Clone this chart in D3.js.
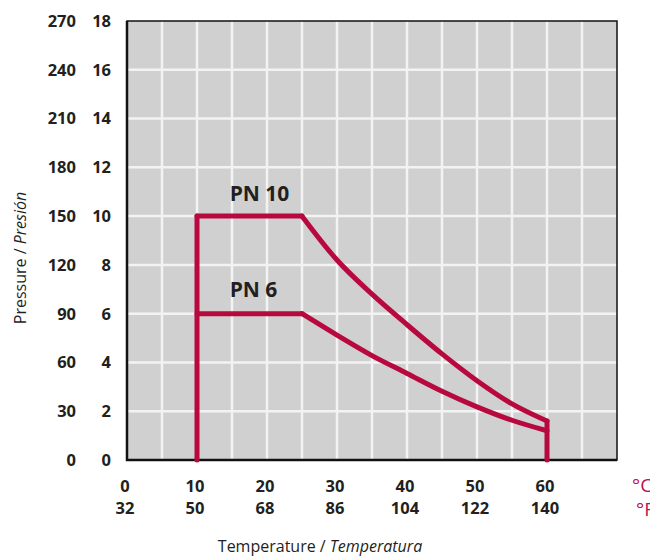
<!DOCTYPE html>
<html>
<head>
<meta charset="utf-8">
<script src="https://cdn.jsdelivr.net/npm/d3@7"></script>
<style>
  body { margin: 0; background: #fff; }
  text { font-family: "Open Sans", sans-serif; fill: #231f20; }
</style>
</head>
<body>
<svg width="650" height="557"></svg>
<script>
// tick labels
var barTicks = [0, 2, 4, 6, 8, 10, 12, 14, 16, 18];
var psiLabels = ["0", "30", "60", "90", "120", "150", "180", "210", "240", "270"];
var celsiusTicks = [0, 10, 20, 30, 40, 50, 60];
var fahrenheitLabels = ["32", "50", "68", "86", "104", "122", "140"];

// pressure curves (temperature °C, pressure bar)
var pn10 = [[10, 10], [25, 10], [30, 8.2], [35, 6.8], [40, 5.55], [45, 4.35], [50, 3.25], [55, 2.3], [60, 1.6]];
var pn6 = [[10, 6], [25, 6], [30, 5.12], [35, 4.28], [40, 3.55], [45, 2.82], [50, 2.18], [55, 1.63], [60, 1.2]];
var minTemp = 10, maxTemp = 60;

var svg = d3.select("svg");
var margin = { left: 127, right: 33, top: 21, bottom: 97 };
var W = 650, H = 557;

var x = d3.scaleLinear().domain([0, 70]).range([margin.left, W - margin.right]);
var y = d3.scaleLinear().domain([0, 18]).range([H - margin.bottom, margin.top]);

// background
svg.append("rect")
  .attr("x", x(0)).attr("y", y(18))
  .attr("width", x(70) - x(0)).attr("height", y(0) - y(18))
  .attr("fill", "#d0d0d0");

// grid
svg.append("g").selectAll("line")
  .data(d3.range(5, 70, 5))
  .join("line")
  .attr("x1", d => x(d)).attr("x2", d => x(d))
  .attr("y1", y(18)).attr("y2", y(0))
  .attr("stroke", "#f3f3f3").attr("stroke-width", 2.5);

svg.append("g").selectAll("line")
  .data(d3.range(2, 18, 2))
  .join("line")
  .attr("x1", x(0)).attr("x2", x(70))
  .attr("y1", d => y(d)).attr("y2", d => y(d))
  .attr("stroke", "#f3f3f3").attr("stroke-width", 2.5);

// frame
svg.append("rect")
  .attr("x", x(0)).attr("y", y(18))
  .attr("width", x(70) - x(0)).attr("height", y(0) - y(18))
  .attr("fill", "none").attr("stroke", "#111").attr("stroke-width", 1.5);
svg.append("path")
  .attr("d", "M" + x(0) + "," + y(18) + "V" + y(0) + "H" + x(70))
  .attr("fill", "none").attr("stroke", "#111").attr("stroke-width", 2.5);

// curves
var red = "#b8093f";
var line = d3.line().x(d => x(d[0])).y(d => y(d[1]));
var curve = d3.line().x(d => x(d[0])).y(d => y(d[1])).curve(d3.curveMonotoneX);

[pn10, pn6].forEach(function(s) {
  svg.append("path").attr("d", line(s.slice(0, 2)))
    .attr("fill", "none").attr("stroke", red).attr("stroke-width", 5)
    .attr("stroke-linejoin", "round").attr("stroke-linecap", "round");
  svg.append("path").attr("d", curve(s.slice(1)))
    .attr("fill", "none").attr("stroke", red).attr("stroke-width", 5)
    .attr("stroke-linejoin", "round").attr("stroke-linecap", "round");
});
// limits
svg.append("path").attr("d", line([[minTemp, 0], [minTemp, pn10[0][1]]]))
  .attr("fill", "none").attr("stroke", red).attr("stroke-width", 5).attr("stroke-linecap", "round");
svg.append("path").attr("d", line([[maxTemp, 0], [maxTemp, pn10[pn10.length - 1][1]]]))
  .attr("fill", "none").attr("stroke", red).attr("stroke-width", 5).attr("stroke-linecap", "round");

// curve labels
svg.append("text").attr("x", x(17.5) + 10).attr("y", y(10) - 15)
  .attr("text-anchor", "middle").attr("font-size", 21).attr("font-weight", 700).text("PN 10");
svg.append("text").attr("x", x(17.5) + 4).attr("y", y(6) - 17)
  .attr("text-anchor", "middle").attr("font-size", 21).attr("font-weight", 700).text("PN 6");

// y tick labels
svg.append("g").selectAll("text")
  .data(barTicks)
  .join("text")
  .attr("x", 111).attr("y", d => y(d)).attr("dy", "0.36em")
  .attr("text-anchor", "end").attr("font-size", 16.5).attr("font-weight", 700)
  .text(d => d);
svg.append("g").selectAll("text")
  .data(barTicks)
  .join("text")
  .attr("x", 76).attr("y", d => y(d)).attr("dy", "0.36em")
  .attr("text-anchor", "end").attr("font-size", 16.5).attr("font-weight", 700)
  .text((d, i) => psiLabels[i]);

// x tick labels
svg.append("g").selectAll("text")
  .data(celsiusTicks)
  .join("text")
  .attr("x", d => x(d) - 2).attr("y", 492)
  .attr("text-anchor", "middle").attr("font-size", 16.5).attr("font-weight", 700)
  .text(d => d);
svg.append("g").selectAll("text")
  .data(celsiusTicks)
  .join("text")
  .attr("x", d => x(d) - 2).attr("y", 514)
  .attr("text-anchor", "middle").attr("font-size", 16.5).attr("font-weight", 700)
  .text((d, i) => fahrenheitLabels[i]);

// unit labels
svg.append("text").attr("x", 632).attr("y", 492).attr("font-size", 19)
  .style("fill", "#c0104a").text("°C");
svg.append("text").attr("x", 636).attr("y", 516).attr("font-size", 19)
  .style("fill", "#c0104a").text("°F");

// axis titles
var xt = svg.append("text").attr("x", 320).attr("y", 552)
  .attr("text-anchor", "middle").attr("font-size", 16);
xt.append("tspan").text("Temperature / ");
xt.append("tspan").attr("font-style", "italic").text("Temperatura");

var yt = svg.append("text").attr("transform", "translate(26,258) rotate(-90)")
  .attr("text-anchor", "middle").attr("font-size", 16);
yt.append("tspan").text("Pressure / ");
yt.append("tspan").attr("font-style", "italic").text("Presión");
</script>
</body>
</html>
